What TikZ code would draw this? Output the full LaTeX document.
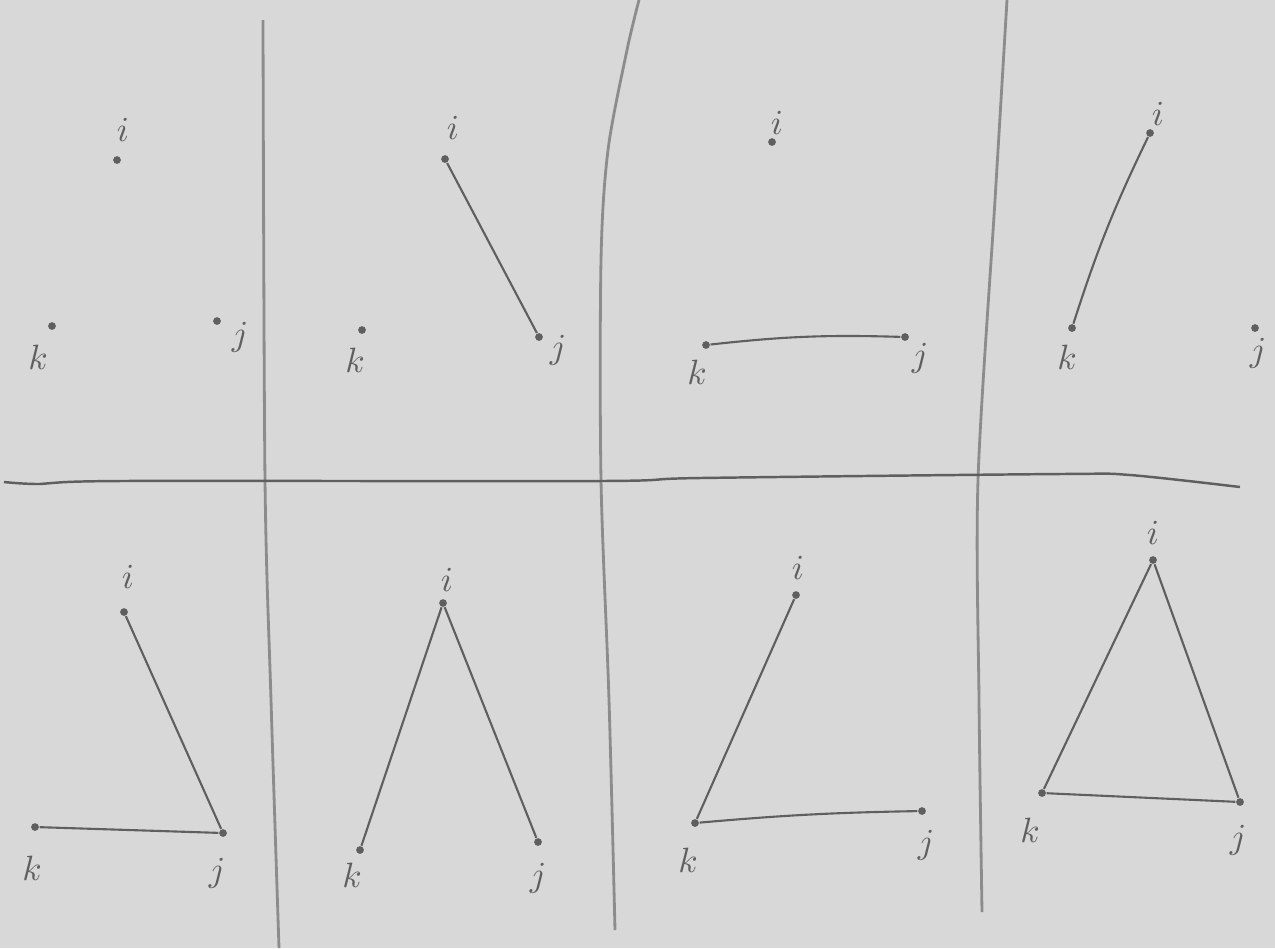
\documentclass[tikz,border=0pt]{standalone}
\usetikzlibrary{positioning}
\definecolor{paper}{RGB}{216,216,216}
\definecolor{pencil}{RGB}{95,95,95}
\definecolor{rule}{RGB}{140,140,140}
\tikzset{
  vtx/.style={circle,fill=pencil,inner sep=0pt,minimum size=2.2pt},
  lbl/.style={text=pencil,inner sep=0pt,font=\normalsize},
  edge/.style={pencil,line width=0.6pt},
  sepline/.style={rule,line width=0.8pt},
}
\begin{document}
\begin{tikzpicture}[x=0.1mm,y=-0.1mm]
	%paper
	\fill[paper] (0,0) rectangle (1275,948);
	\useasboundingbox (0,0) rectangle (1275,948);

	%separators
	\draw[sepline] plot[smooth] coordinates {(263,20) (265,480) (271,700) (279,948)};
	\draw[sepline] plot[smooth] coordinates {(639,0) (627,50) (608,150) (601,260) (601,480) (609,700) (615,930)};
	\draw[sepline] plot[smooth] coordinates {(1007,0) (995,200) (978,480) (979,700) (982,912)};
	\draw[pencil,line width=0.7pt] plot[smooth] coordinates {(4,482) (40,484) (120,481) (600,481) (700,478) (1060,474) (1130,475) (1240,487)};

	%panel 1: no edge
	\node[vtx] (i1) at (117,160) {};
	\node[vtx] (j1) at (217,321) {};
	\node[vtx] (k1) at (52,326) {};
	\node[lbl] (li1) at (123,130) {$i$};
	\node[lbl] (lj1) at (240,337) {$j$};
	\node[lbl] (lk1) at (38,357) {$k$};

	%panel 2: i-j
	\node[vtx] (i2) at (445,159) {};
	\node[vtx] (j2) at (539,337) {};
	\node[vtx] (k2) at (362,330) {};
	\node[lbl] (li2) at (453,128) {$i$};
	\node[lbl] (lj2) at (558,350) {$j$};
	\node[lbl] (lk2) at (355,360) {$k$};
	\draw[edge] (i2) -- (j2);

	%panel 3: k-j
	\node[vtx] (i3) at (772,142) {};
	\node[vtx] (j3) at (905,337) {};
	\node[vtx] (k3) at (706,345) {};
	\node[lbl] (li3) at (777,123) {$i$};
	\node[lbl] (lj3) at (920,358) {$j$};
	\node[lbl] (lk3) at (697,372) {$k$};
	\draw[edge] (k3) to[bend left=4] (j3);

	%panel 4: i-k
	\node[vtx] (i4) at (1150,133) {};
	\node[vtx] (j4) at (1255,328) {};
	\node[vtx] (k4) at (1072,328) {};
	\node[lbl] (li4) at (1158,114) {$i$};
	\node[lbl] (lj4) at (1258,353) {$j$};
	\node[lbl] (lk4) at (1067,357) {$k$};
	\draw[edge] (k4) to[bend left=4] (i4);

	%panel 5: i-j, k-j
	\node[vtx] (i5) at (124,612) {};
	\node[vtx] (j5) at (223,833) {};
	\node[vtx] (k5) at (35,827) {};
	\node[lbl] (li5) at (128,577) {$i$};
	\node[lbl] (lj5) at (217,873) {$j$};
	\node[lbl] (lk5) at (32,868) {$k$};
	\draw[edge] (i5) -- (j5);
	\draw[edge] (k5) -- (j5);

	%panel 6: i-k, i-j
	\node[vtx] (i6) at (443,603) {};
	\node[vtx] (j6) at (538,842) {};
	\node[vtx] (k6) at (360,850) {};
	\node[lbl] (li6) at (447,580) {$i$};
	\node[lbl] (lj6) at (538,878) {$j$};
	\node[lbl] (lk6) at (352,875) {$k$};
	\draw[edge] (i6) -- (k6);
	\draw[edge] (i6) -- (j6);

	%panel 7: i-k, k-j
	\node[vtx] (i7) at (796,595) {};
	\node[vtx] (j7) at (922,811) {};
	\node[vtx] (k7) at (695,823) {};
	\node[lbl] (li7) at (798,568) {$i$};
	\node[lbl] (lj7) at (926,845) {$j$};
	\node[lbl] (lk7) at (688,860) {$k$};
	\draw[edge] (i7) -- (k7);
	\draw[edge] (k7) to[bend left=2] (j7);

	%panel 8: all three
	\node[vtx] (i8) at (1153,560) {};
	\node[vtx] (j8) at (1240,802) {};
	\node[vtx] (k8) at (1042,793) {};
	\node[lbl] (li8) at (1153,533) {$i$};
	\node[lbl] (lj8) at (1238,840) {$j$};
	\node[lbl] (lk8) at (1030,830) {$k$};
	\draw[edge] (i8) -- (k8);
	\draw[edge] (i8) -- (j8);
	\draw[edge] (k8) -- (j8);
\end{tikzpicture}
\end{document}
